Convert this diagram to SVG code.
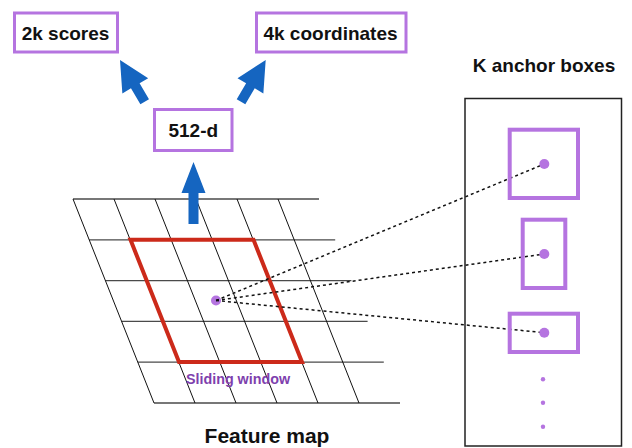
<svg xmlns="http://www.w3.org/2000/svg" width="632" height="448" viewBox="0 0 632 448">
<style>
  .box{fill:#fff;stroke:#b574e0;stroke-width:3}
  .anchor{fill:none;stroke:#b574e0;stroke-width:4}
  .lbl{font-family:"Liberation Sans",Arial,sans-serif;font-weight:bold;font-size:19px;fill:#111;text-anchor:middle}
  .hl{stroke:#4a4a4a;stroke-width:1.3}
  .sl{stroke:#111;stroke-width:1}
  .dash{stroke:#111;stroke-width:1.5;stroke-dasharray:3 3;fill:none}
  .blue{fill:#1565c0}
  .pdot{fill:#b574e0}
</style>
<rect width="632" height="448" fill="#fff"/>

<g id="feature-map">
  <g id="grid-h">
    <line class="hl" x1="73" y1="199" x2="319" y2="199"/>
    <line class="hl" x1="89.2" y1="239.8" x2="335.2" y2="239.8"/>
    <line class="hl" x1="105.4" y1="280.6" x2="351.4" y2="280.6"/>
    <line class="hl" x1="121.6" y1="321.4" x2="367.6" y2="321.4"/>
    <line class="hl" x1="137.8" y1="362.2" x2="383.8" y2="362.2"/>
    <line class="hl" x1="154" y1="403" x2="400" y2="403"/>
  </g>
  <g id="grid-v">
    <line class="sl" x1="73" y1="199" x2="154" y2="403"/>
    <line class="sl" x1="114" y1="199" x2="195" y2="403"/>
    <line class="sl" x1="155" y1="199" x2="236" y2="403"/>
    <line class="sl" x1="196" y1="199" x2="277" y2="403"/>
    <line class="sl" x1="237" y1="199" x2="318" y2="403"/>
    <line class="sl" x1="278" y1="199" x2="359" y2="403"/>
  </g>
  <text class="lbl" x="267" y="443" style="font-size:21px">Feature map</text>
</g>

<g id="sliding-window">
  <polygon points="130.5,239.8 253.5,239.8 302,362 179,362" fill="none" stroke="#cc2a1a" stroke-width="4" stroke-linejoin="miter"/>
  <text x="238" y="384" style="font-family:'Liberation Sans',Arial,sans-serif;font-weight:bold;font-size:14.3px;fill:#7e40ad;text-anchor:middle">Sliding window</text>
</g>

<g id="center-dot">
  <circle class="pdot" cx="216" cy="300.5" r="5"/>
</g>

<g id="connectors">
  <line class="dash" x1="216" y1="300.5" x2="544.3" y2="164"/>
  <line class="dash" x1="216" y1="300.5" x2="544.3" y2="254"/>
  <line class="dash" x1="216" y1="300.5" x2="544.3" y2="332.7"/>
  <polygon class="blue" points="193.5,162 205.5,193 198.5,193 198.5,224 188.5,224 188.5,193 181.5,193"/>
  <polygon class="blue" transform="translate(120,60) rotate(-30.6)" points="0,0 15,30 5,30 5,48.5 -5,48.5 -5,30 -15,30"/>
  <polygon class="blue" transform="translate(265.7,60) rotate(30.6)" points="0,0 15,30 5,30 5,48.5 -5,48.5 -5,30 -15,30"/>
</g>

<g id="node-512d">
  <rect class="box" x="154.5" y="109.5" width="77.5" height="41"/>
  <text class="lbl" x="193.3" y="137">512-d</text>
</g>

<g id="node-2k-scores">
  <rect class="box" x="14.5" y="13" width="103" height="39"/>
  <text class="lbl" x="65.5" y="40">2k scores</text>
</g>

<g id="node-4k-coordinates">
  <rect class="box" x="256.5" y="13" width="149.5" height="39"/>
  <text class="lbl" x="330.5" y="40">4k coordinates</text>
</g>

<g id="anchor-panel">
  <text class="lbl" x="544" y="72">K anchor boxes</text>
  <rect x="465" y="98.5" width="156.5" height="347.5" fill="none" stroke="#222" stroke-width="1.5"/>
  <g id="anchor-1"><rect class="anchor" x="509.7" y="129.7" width="68.3" height="68.3"/><circle class="pdot" cx="544.3" cy="164" r="5"/></g>
  <g id="anchor-2"><rect class="anchor" x="522.7" y="219.7" width="42.6" height="68.3"/><circle class="pdot" cx="544.3" cy="254" r="5"/></g>
  <g id="anchor-3"><rect class="anchor" x="509.7" y="313.7" width="68.3" height="38.3"/><circle class="pdot" cx="544.3" cy="332.7" r="5"/></g>
  <g id="more-dots">
    <circle class="pdot" cx="543" cy="379.3" r="2.2"/>
    <circle class="pdot" cx="543" cy="402.7" r="2.2"/>
    <circle class="pdot" cx="543" cy="426.7" r="2.2"/>
  </g>
</g>
</svg>
